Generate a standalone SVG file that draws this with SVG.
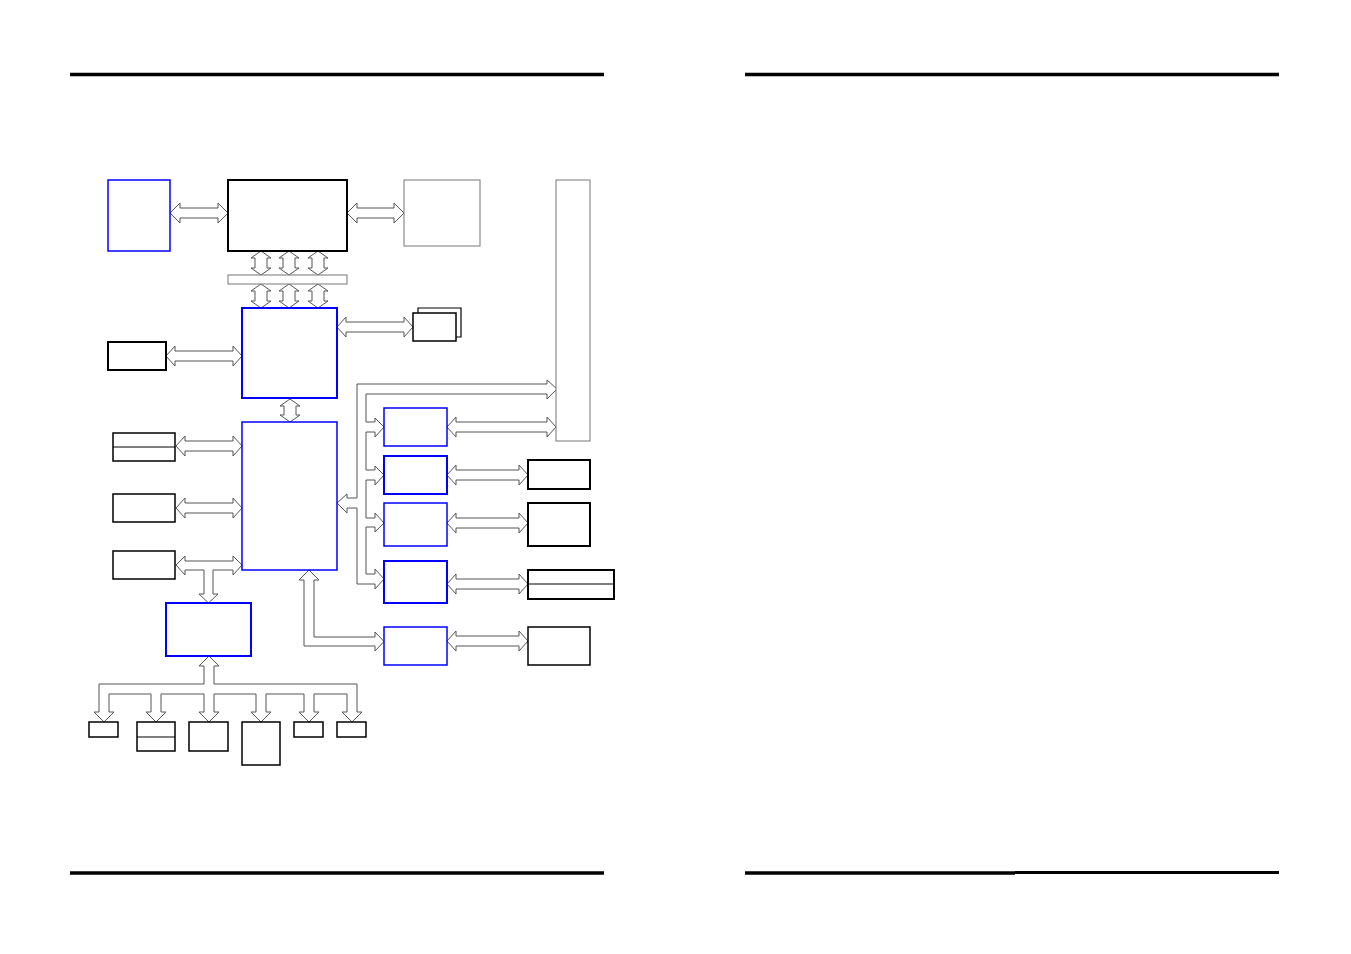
<svg xmlns="http://www.w3.org/2000/svg" width="1351" height="954" viewBox="0 0 1351 954">
<style>
.bg{fill:#fff}
.blue{fill:#fff;stroke:#0000ff;stroke-width:1.5}
.blue2{fill:#fff;stroke:#0000ff;stroke-width:2}
.blk{fill:#fff;stroke:#000;stroke-width:1.5}
.blk2{fill:#fff;stroke:#000;stroke-width:2}
.gry{fill:#fff;stroke:#777;stroke-width:1}
.div{stroke:#000;stroke-width:1.2}
.rule{stroke:#000;stroke-width:3.5}
.conn polygon,.conn path{fill:#fff;stroke:#555;stroke-width:1;stroke-linejoin:miter}
</style>
<rect class="bg" x="0" y="0" width="1351" height="954"/>
<g id="rules">
<line class="rule" x1="70" y1="74.5" x2="604" y2="74.5"/>
<line class="rule" x1="745" y1="74.5" x2="1279" y2="74.5"/>
<line class="rule" x1="70" y1="873" x2="604" y2="873"/>
<line class="rule" x1="745" y1="873" x2="1015" y2="873"/>
<line x1="1015" y1="872.5" x2="1279" y2="872.5" stroke="#000" stroke-width="3"/>
</g>
<g class="conn" id="connectors">
<polygon points="170,213 180,203 180,208 218,208 218,203 228,213 218,223 218,218 180,218 180,223"/>
<polygon points="347,213 357,203 357,208 394,208 394,203 404,213 394,223 394,218 357,218 357,223"/>
<polygon points="261,251 271,258 267,258 267,268 271,268 261,275 251,268 255,268 255,258 251,258"/>
<polygon points="289,251 299,258 295,258 295,268 299,268 289,275 279,268 283,268 283,258 279,258"/>
<polygon points="318,251 328,258 324,258 324,268 328,268 318,275 308,268 312,268 312,258 308,258"/>
<polygon points="261,284 271,291 267,291 267,301 271,301 261,308 251,301 255,301 255,291 251,291"/>
<polygon points="289,284 299,291 295,291 295,301 299,301 289,308 279,301 283,301 283,291 279,291"/>
<polygon points="318,284 328,291 324,291 324,301 328,301 318,308 308,301 312,301 312,291 308,291"/>
<polygon points="166,356 175,346 175,351 233,351 233,346 242,356 233,366 233,361 175,361 175,366"/>
<polygon points="337,327 346,317 346,322 404,322 404,317 413,327 404,337 404,332 346,332 346,337"/>
<polygon points="290,399 300,406 296,406 296,415 300,415 290,422 280,415 284,415 284,406 280,406"/>
<polygon points="176,446 185,436 185,441 233,441 233,436 242,446 233,456 233,451 185,451 185,456"/>
<polygon points="176,508 185,498 185,503 233,503 233,498 242,508 233,518 233,513 185,513 185,518"/>
<polygon points="176,565 185,556 185,561 233,561 233,556 242,565 233,575 233,570 213,570 213,594 218,594 208.5,603 199,594 204,594 204,570 185,570 185,575"/>
<polygon points="337,503 347,494 347,498 357,498 357,384 547,384 547,380 557,389 547,399 547,394 366,394 366,422 375,422 375,418 384,427 375,437 375,432 366,432 366,470 375,470 375,466 384,475 375,485 375,480 366,480 366,518 375,518 375,513 384,523 375,532 375,527 366,527 366,574 375,574 375,569 384,579 375,589 375,584 357,584 357,508 347,508 347,513"/>
<polygon points="309,570 319,580 314,580 314,637 375,637 375,632 384,641.5 375,651 375,646 304,646 304,580 299,580"/>
<polygon points="447,427 456,417 456,422 547,422 547,417 556,427 547,437 547,432 456,432 456,437"/>
<polygon points="447,475 456,465 456,470 519,470 519,465 528,475 519,485 519,480 456,480 456,485"/>
<polygon points="447,523 456,513 456,518 519,518 519,513 528,523 519,533 519,528 456,528 456,533"/>
<polygon points="447,584 456,574 456,579 519,579 519,574 528,584 519,594 519,589 456,589 456,594"/>
<polygon points="447,641 456,631 456,636 519,636 519,631 528,641 519,651 519,646 456,646 456,651"/>
<path d="M209,656 L219,666 L214,666 L214,684 L357,684 L357,712 L362,712 L352,722 L342,712 L347,712 L347,694 L314,694 L314,712 L319,712 L309,722 L299,712 L304,712 L304,694 L266,694 L266,712 L271,712 L261,722 L251,712 L256,712 L256,694 L214,694 L214,712 L219,712 L209,722 L199,712 L204,712 L204,694 L161,694 L161,712 L166,712 L156,722 L146,712 L151,712 L151,694 L109,694 L109,712 L114,712 L104,722 L94,712 L99,712 L99,684 L204,684 L204,666 L199,666 Z"/>
</g>
<g id="nodeA"><rect class="blue" x="108" y="180" width="62" height="71"/></g>
<g id="nodeB"><rect class="blk2" x="228" y="180" width="119" height="71"/></g>
<g id="nodeC"><rect class="gry" x="404" y="180" width="76" height="66"/></g>
<g id="bus"><rect class="gry" x="228" y="275" width="119" height="9"/></g>
<g id="nodeD"><rect class="blue2" x="242" y="308" width="95" height="90"/></g>
<g id="nodeE"><rect class="blk2" x="108" y="342" width="58" height="28"/></g>
<g id="nodeF">
<polyline points="418,313 418,308 461,308 461,337 456,337" fill="none" stroke="#000" stroke-width="1.2"/>
<rect class="blk" x="413" y="313" width="43" height="28"/>
</g>
<g id="nodeG"><rect class="blue" x="242" y="422" width="95" height="148"/></g>
<g id="nodeH1"><rect class="blk" x="113" y="433" width="62" height="28"/><line class="div" x1="113" y1="447" x2="175" y2="447"/></g>
<g id="nodeH2"><rect class="blk" x="113" y="494" width="62" height="28"/></g>
<g id="nodeH3"><rect class="blk" x="113" y="551" width="62" height="28"/></g>
<g id="nodeI"><rect class="blue2" x="166" y="603" width="85" height="53"/></g>
<g id="nodeJ1"><rect class="blk" x="89" y="722" width="29" height="15"/></g>
<g id="nodeJ2"><rect class="blk" x="137" y="722" width="38" height="29"/><line class="div" x1="137" y1="737" x2="175" y2="737"/></g>
<g id="nodeJ3"><rect class="blk" x="189" y="722" width="39" height="29"/></g>
<g id="nodeJ4"><rect class="blk" x="242" y="722" width="38" height="43"/></g>
<g id="nodeJ5"><rect class="blk" x="294" y="722" width="29" height="15"/></g>
<g id="nodeJ6"><rect class="blk" x="337" y="722" width="29" height="15"/></g>
<g id="nodeK"><rect class="gry" x="556" y="180" width="34" height="261"/></g>
<g id="nodeL1"><rect class="blue" x="384" y="408" width="63" height="38"/></g>
<g id="nodeL2"><rect class="blue2" x="384" y="456" width="63" height="38"/></g>
<g id="nodeL3"><rect class="blue" x="384" y="503" width="63" height="43"/></g>
<g id="nodeL4"><rect class="blue2" x="384" y="561" width="63" height="42"/></g>
<g id="nodeL5"><rect class="blue" x="384" y="627" width="63" height="38"/></g>
<g id="nodeM2"><rect class="blk2" x="528" y="460" width="62" height="29"/></g>
<g id="nodeM3"><rect class="blk2" x="528" y="503" width="62" height="43"/></g>
<g id="nodeM4"><rect class="blk2" x="528" y="570" width="86" height="29"/><line class="div" x1="528" y1="584" x2="614" y2="584"/></g>
<g id="nodeM5"><rect class="blk" x="528" y="627" width="62" height="38"/></g>
</svg>
